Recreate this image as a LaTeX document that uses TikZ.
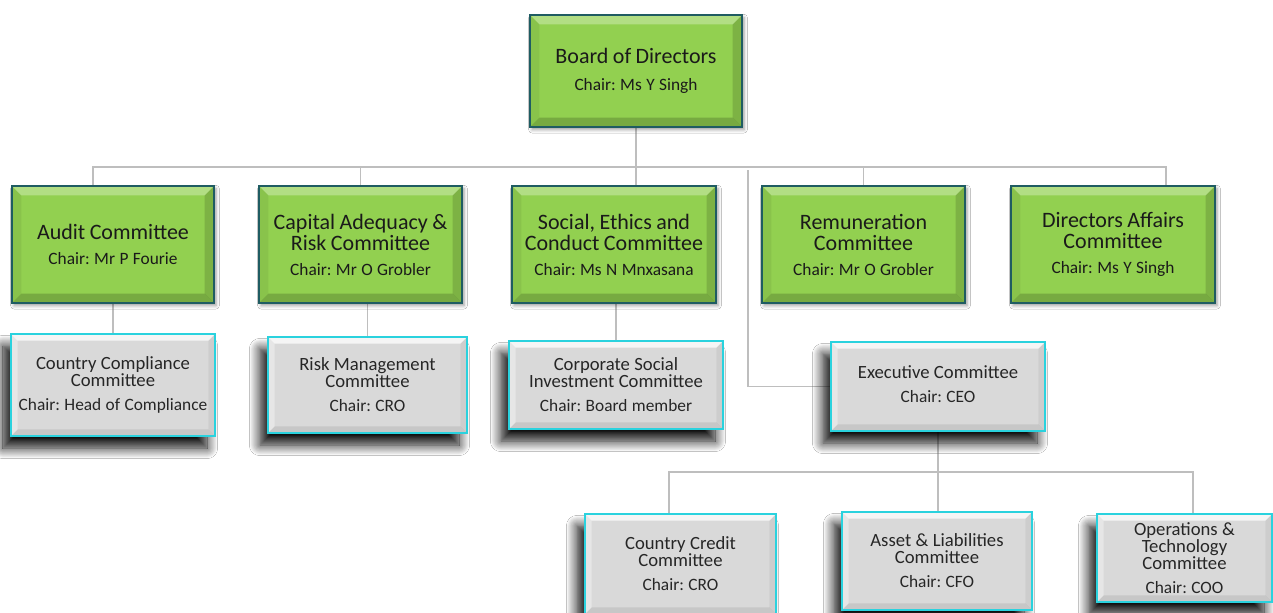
\documentclass[tikz,border=0pt]{standalone}
\usepackage{fontspec}
\setmainfont{Carlito}
\usetikzlibrary{backgrounds,shadows.blur}
\frenchspacing

\definecolor{boardgreen}{HTML}{92D050}
\definecolor{boardedge}{HTML}{1F5C62}
\definecolor{panelgray}{HTML}{D9D9D9}
\definecolor{paneledge}{HTML}{2AD2DE}
\definecolor{linkgray}{HTML}{BEBEBE}
\definecolor{inkdark}{HTML}{1A1A1A}
\definecolor{inkgray}{HTML}{262626}

% text helpers: committee name block and chair line
\newcommand\gtitle[1]{{\fontsize{16.5}{15.75}\selectfont #1\par}}
\newcommand\gchair[1]{{\fontsize{13}{18.75}\selectfont #1\par}}
\newcommand\ptitle[1]{{\fontsize{14}{12.75}\selectfont #1\par}}
\newcommand\pchair[1]{{\fontsize{13}{18}\selectfont #1\par}}

% bevelled faces drawn inside a box outline
\newcommand\bevelfaces[5]{%
  \path (path picture bounding box.north west) coordinate (bNW)
        (path picture bounding box.north east) coordinate (bNE)
        (path picture bounding box.south west) coordinate (bSW)
        (path picture bounding box.south east) coordinate (bSE);
  \fill[#2] (bNW) -- (bNE) -- ([xshift=-#1,yshift=-#1]bNE) -- ([xshift=#1,yshift=-#1]bNW) -- cycle;
  \fill[#3] (bNW) -- ([xshift=#1,yshift=-#1]bNW) -- ([xshift=#1,yshift=#1]bSW) -- (bSW) -- cycle;
  \fill[#4] (bNE) -- (bSE) -- ([xshift=-#1,yshift=#1]bSE) -- ([xshift=-#1,yshift=-#1]bNE) -- cycle;
  \fill[#5] (bSW) -- ([xshift=#1,yshift=#1]bSW) -- ([xshift=-#1,yshift=#1]bSE) -- (bSE) -- cycle;}

\tikzset{
  boardbox/.style 2 args={draw=boardedge, line width=2.2pt, fill=boardgreen,
    minimum width=#1, minimum height=#2, text width=#1-10pt, inner sep=0pt,
    align=center, text=inkdark,
    blur shadow={shadow xshift=1.5pt, shadow yshift=-2pt, shadow blur radius=2.5pt, shadow opacity=40},
    path picture={\bevelfaces{7pt}{white,opacity=.30}{black,opacity=.06}{black,opacity=.14}{black,opacity=.18}}},
  panelbox/.style 2 args={draw=paneledge, line width=2pt, fill=panelgray,
    minimum width=#1, minimum height=#2, text width=#1-8pt, inner sep=0pt,
    align=center, text=inkgray,
    blur shadow={shadow xshift=-6pt, shadow yshift=-9pt, shadow blur radius=8pt, shadow blur steps=12, shadow opacity=95},
    path picture={\bevelfaces{5pt}{white,opacity=.75}{white,opacity=.35}{black,opacity=.05}{black,opacity=.08}}},
  link/.style={draw=linkgray, line width=1.1pt},
}

\begin{document}
\begin{tikzpicture}[x=0.75pt,y=-0.75pt]
\useasboundingbox (0,0) rectangle (1273,613);

% board and its committees
\node[boardbox={159pt}{84pt}] (board) at (636,71)
  {\gtitle{Board of Directors}\vspace{1pt}\gchair{Chair: Ms Y Singh}};
\node[boardbox={151.5pt}{87.75pt}] (audit) at (113,244.5)
  {\gtitle{Audit Committee}\gchair{Chair: Mr P Fourie}};
\node[boardbox={152.25pt}{87.75pt}] (capital) at (360.5,244.5)
  {\gtitle{Capital Adequacy \&\\Risk Committee}\gchair{Chair: Mr O Grobler}};
\node[boardbox={153pt}{87.75pt}] (social) at (614,244.5)
  {\gtitle{Social, Ethics and\\Conduct Committee}\gchair{Chair: Ms N Mnxasana}};
\node[boardbox={152.25pt}{87.75pt}] (remun) at (863.5,244.5)
  {\gtitle{Remuneration\\Committee}\gchair{Chair: Mr O Grobler}};
\node[boardbox={153pt}{87.75pt}] (dirs) at (1113,244.5)
  {\gtitle{Directors Affairs\\Committee}\gchair{Chair: Ms Y Singh}};

% management committees
\node[panelbox={153pt}{76.5pt}] (compliance) at (113,385)
  {\ptitle{Country Compliance\\Committee}\pchair{Chair: Head of Compliance}};
\node[panelbox={149.25pt}{72pt}] (risk) at (367.5,385)
  {\ptitle{Risk Management\\Committee}\pchair{Chair: CRO}};
\node[panelbox={160.5pt}{66pt}] (csi) at (616,385)
  {\ptitle{Corporate Social\\Investment Committee}\pchair{Chair: Board member}};
\node[panelbox={160.5pt}{66.75pt}] (exec) at (938,386.5)
  {\ptitle{Executive Committee}\pchair{Chair: CEO}\vspace{4pt}};
\node[panelbox={143.25pt}{75pt}] (credit) at (680.5,564)
  {\ptitle{Country Credit\\Committee}\pchair{Chair: CRO}};
\node[panelbox={142.5pt}{73.5pt}] (alco) at (937,561)
  {\ptitle{Asset \& Liabilities\\Committee}\pchair{Chair: CFO}};
\node[panelbox={131.25pt}{66pt}] (ops) at (1184.5,558)
  {\ptitle{Operations \&\\Technology\\Committee}\pchair{Chair: COO}};

% reporting lines
\coordinate (busL) at (93,167);
\coordinate (busR) at (1166,167);
\coordinate (execTap) at (748,170);
\coordinate (mgmtBus) at (669,472);
\coordinate (mgmtBusR) at (1193,472);
\begin{pgfonlayer}{background}
  \fill[white] (0,0) rectangle (1273,613);
  \draw[link] (board.south) -- (board.south |- social.north);
  \draw[link] (busL |- audit.north) -- (busL) -- (busR) -- (busR |- dirs.north);
  \draw[link] (capital.north) -- (capital.north |- busL);
  \draw[link] (remun.north) -- (remun.north |- busL);
  \draw[link] (execTap) |- (exec.west);
  \draw[link] (audit.south) -- (compliance.north);
  \draw[link] (risk.north |- capital.south) -- (risk.north);
  \draw[link] (csi.north |- social.south) -- (csi.north);
  \draw[link] (exec.south) -- (exec.south |- alco.north);
  \draw[link] (mgmtBus |- credit.north) -- (mgmtBus) -- (mgmtBusR) -- (mgmtBusR |- ops.north);
\end{pgfonlayer}
\end{tikzpicture}
\end{document}
